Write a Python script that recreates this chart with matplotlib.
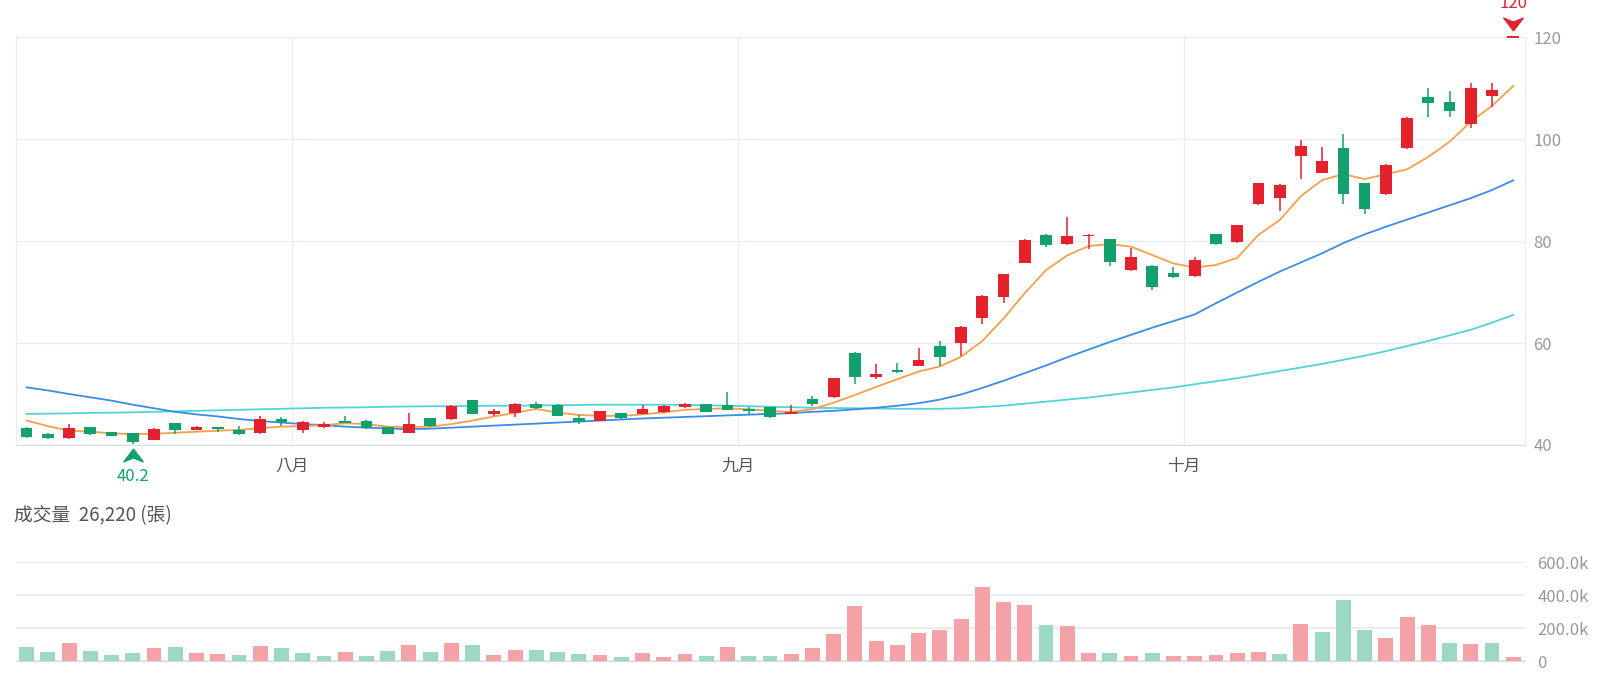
import matplotlib
matplotlib.use('Agg')
import matplotlib.pyplot as plt
from matplotlib.path import Path
from matplotlib.ticker import FuncFormatter
import numpy as np

# 字型：繁中用 Noto Sans CJK TC，缺字時退回 DejaVu Sans
plt.rcParams['font.family'] = ['Noto Sans CJK TC', 'DejaVu Sans']

# ---- 日K資料 ----
opens = [43.3, 42.1, 41.3, 43.5, 42.55, 42.3, 41.0, 44.25, 42.9, 43.6,
         42.95, 42.3, 45.0, 42.95, 43.6, 44.6, 44.8, 43.5, 42.4, 45.2,
         45.0, 48.8, 46.0, 46.2, 48.0, 47.85, 45.2, 44.8, 46.2, 46.15,
         46.5, 47.45, 48.0, 47.85, 47.0, 47.4, 46.15, 49.0, 49.35, 57.97,
         53.4, 54.7, 55.49, 59.48, 60.07, 64.84, 69.09, 75.75, 81.24, 79.35,
         80.98, 80.33, 74.25, 75.1, 73.66, 73.14, 81.3, 79.86, 87.2, 88.36,
         96.73, 93.4, 98.3, 91.3, 89.2, 98.3, 108.2, 107.19, 102.94, 108.5,
         120.0]
highs = [43.5, 42.3, 44.2, 43.6, 42.6, 42.4, 43.3, 44.3, 43.75, 43.6,
         43.7, 45.7, 45.4, 44.8, 44.6, 45.75, 44.9, 43.6, 46.2, 45.3,
         47.9, 48.9, 47.0, 48.3, 48.4, 48.0, 45.9, 46.7, 46.3, 47.9,
         47.85, 48.3, 48.1, 50.3, 47.4, 47.5, 47.85, 49.6, 53.1, 58.3,
         55.9, 56.0, 59.1, 60.46, 63.3, 69.4, 73.6, 80.3, 81.4, 84.64,
         81.3, 80.4, 78.56, 75.2, 75.0, 76.8, 81.4, 83.2, 91.4, 91.1,
         99.8, 98.5, 100.97, 91.4, 95.1, 104.3, 109.93, 109.47, 111.04, 111.04,
         120.0]
lows = [41.3, 41.2, 41.2, 42.0, 41.7, 40.2, 40.9, 42.2, 42.9, 42.6,
        42.05, 42.2, 43.7, 42.4, 43.3, 44.5, 43.2, 42.1, 42.3, 43.6,
        44.9, 46.0, 45.7, 45.4, 47.1, 45.6, 44.1, 44.7, 45.1, 46.1,
        46.3, 47.2, 46.4, 46.8, 46.1, 45.2, 46.1, 47.65, 49.3, 52.0,
        52.9, 54.2, 55.4, 55.49, 57.45, 63.73, 67.9, 75.6, 78.76, 79.2,
        78.5, 75.1, 74.2, 70.3, 72.7, 73.0, 79.2, 79.6, 87.1, 85.9,
        92.15, 93.25, 87.25, 85.2, 89.1, 98.0, 104.24, 104.24, 102.1, 106.2,
        120.0]
closes = [41.6, 41.4, 43.3, 42.2, 41.8, 40.6, 43.1, 42.95, 43.5, 43.2,
          42.1, 45.0, 44.45, 44.6, 44.05, 44.5, 43.27, 42.2, 44.1, 43.7,
          47.7, 46.1, 46.6, 48.0, 47.2, 45.75, 44.45, 46.6, 45.2, 47.06,
          47.6, 48.0, 46.5, 46.9, 46.6, 45.4, 46.5, 48.0, 53.07, 53.4,
          54.0, 54.3, 56.67, 57.32, 63.2, 69.28, 73.5, 80.2, 79.15, 81.05,
          81.24, 75.9, 76.8, 70.9, 73.0, 76.27, 79.4, 83.07, 91.3, 90.97,
          98.69, 95.75, 89.15, 86.27, 95.0, 104.18, 107.05, 105.55, 110.1, 109.7,
          120.0]

# 均線
ma_short = [44.8, 43.7, 42.8, 42.6, 42.3, 42.1, 42.2, 42.4, 42.6, 42.8,
            42.95, 43.3, 43.6, 43.7, 43.9, 44.25, 44.1, 43.6, 43.5, 43.6,
            44.1, 44.8, 45.6, 46.3, 47.1, 46.35, 45.9, 45.7, 45.7, 46.0,
            46.4, 46.9, 47.06, 47.2, 47.0, 46.7, 46.5, 47.0, 48.3, 49.8,
            51.4, 52.9, 54.4, 55.4, 57.3, 60.4, 64.8, 69.8, 74.3, 77.2,
            79.0, 79.4, 78.9, 77.25, 75.6, 74.8, 75.3, 76.7, 81.2, 84.1,
            88.8, 91.95, 93.1, 92.15, 93.1, 94.05, 96.5, 99.47, 103.4, 106.5,
            110.4]
ma_mid = [51.3, 50.7, 50.0, 49.35, 48.7, 47.9, 47.2, 46.5, 46.0, 45.6,
          45.1, 44.7, 44.4, 44.1, 43.9, 43.6, 43.4, 43.25, 43.1, 43.2,
          43.4, 43.6, 43.8, 44.0, 44.2, 44.4, 44.6, 44.8, 45.0, 45.2,
          45.35, 45.5, 45.65, 45.8, 45.95, 46.1, 46.25, 46.5, 46.7, 47.0,
          47.3, 47.7, 48.2, 48.9, 49.9, 51.2, 52.6, 54.1, 55.6, 57.2,
          58.7, 60.2, 61.6, 63.0, 64.3, 65.6, 67.8, 69.9, 72.0, 74.0,
          75.8, 77.6, 79.6, 81.3, 82.8, 84.2, 85.6, 87.0, 88.4, 90.0,
          91.9]
ma_long = [46.1, 46.15, 46.2, 46.3, 46.35, 46.4, 46.5, 46.6, 46.7, 46.8,
           46.9, 47.0, 47.1, 47.2, 47.3, 47.35, 47.4, 47.5, 47.55, 47.6,
           47.6, 47.65, 47.7, 47.7, 47.75, 47.8, 47.85, 47.9, 47.9, 47.9,
           47.9, 47.85, 47.8, 47.7, 47.6, 47.5, 47.4, 47.3, 47.25, 47.2,
           47.15, 47.1, 47.1, 47.1, 47.2, 47.45, 47.7, 48.1, 48.5, 48.9,
           49.3, 49.8, 50.3, 50.8, 51.3, 51.9, 52.5, 53.1, 53.8, 54.5,
           55.2, 55.9, 56.7, 57.5, 58.4, 59.4, 60.4, 61.5, 62.6, 64.0,
           65.5]

# 成交量 (張) 與漲跌 (1=漲, 0=跌)
volumes = [88000, 52000, 112000, 58000, 36000, 48000, 80000, 82000, 46000, 40000,
           36000, 90000, 76000, 46000, 32000, 54000, 30000, 62000, 97000, 56000,
           110000, 100000, 38000, 64000, 64000, 52000, 42000, 34000, 22000, 46000,
           24000, 40000, 28000, 86000, 28000, 32000, 40000, 81000, 164000, 332000,
           120000, 100000, 170000, 190000, 256000, 446000, 356000, 342000, 220000, 214000,
           48000, 46000, 30000, 46000, 32000, 28000, 35000, 48000, 54000, 44000,
           222000, 178000, 372000, 186000, 142000, 264000, 218000, 108000, 106000, 112000,
           26220]
vol_up = [0, 0, 1, 0, 0, 0, 1, 0, 1, 1,
          0, 1, 0, 0, 0, 1, 0, 0, 1, 0,
          1, 0, 1, 1, 0, 0, 0, 1, 0, 1,
          1, 1, 0, 1, 0, 0, 1, 1, 1, 1,
          1, 1, 1, 1, 1, 1, 1, 1, 0, 1,
          1, 0, 1, 0, 1, 1, 1, 1, 1, 0,
          1, 0, 0, 0, 1, 1, 1, 0, 1, 0,
          1]

month_pos = [12.5, 33.5, 54.5]
month_labels = ['八月', '九月', '十月']
low_idx, low_val = 5, 40.2
high_idx, high_val = 70, 120

RED = '#e3222e'
GREEN = '#12a06c'
GRID = '#eaecf3'

x = np.arange(len(opens))
o = np.array(opens)
c = np.array(closes)
up = c >= o
colors = [RED if u else GREEN for u in up]

fig = plt.figure(figsize=(16, 6.88), dpi=100)

# ---- 價格圖 ----
ax = fig.add_axes([0.01, 0.3532, 0.9431, 0.593])
ax.vlines(x, lows, highs, color=colors, linewidth=1.1, zorder=3)
body = np.abs(c - o)
min_h = 0.3
bottoms = np.where(body < min_h, (o + c) / 2 - min_h / 2, np.minimum(o, c))
heights = np.maximum(body, min_h)
ax.bar(x, heights, bottom=bottoms, width=0.55, color=colors, zorder=4, clip_on=False)

ax.plot(x, ma_long, color='#50d4da', linewidth=1.3, zorder=2)
ax.plot(x, ma_mid, color='#3a8de6', linewidth=1.3, zorder=2)
ax.plot(x, ma_short, color='#f6a04c', linewidth=1.3, zorder=2)

ax.set_xlim(-0.5, 70.55)
ax.set_ylim(40, 120)
ax.set_yticks([40, 60, 80, 100, 120])
ax.set_xticks(month_pos, month_labels)
ax.yaxis.tick_right()
ax.tick_params(axis='y', length=0, pad=6, labelsize=12, labelcolor='#999999')
ax.tick_params(axis='x', length=0, pad=9, labelsize=12, labelcolor='#555555')
ax.grid(True, color=GRID, linewidth=1, zorder=0)
ax.set_axisbelow(True)
for s in ['left', 'right', 'top']:
    ax.spines[s].set_color(GRID)
ax.spines['bottom'].set_color('#d5d9e3')

# 最低/最高標記
up_arrow = Path([(0, 0.65), (-1, -0.65), (0, -0.25), (1, -0.65), (0, 0.65)],
                [Path.MOVETO, Path.LINETO, Path.LINETO, Path.LINETO, Path.CLOSEPOLY])
down_arrow = Path([(0, -0.65), (-1, 0.65), (0, 0.25), (1, 0.65), (0, -0.65)],
                  [Path.MOVETO, Path.LINETO, Path.LINETO, Path.LINETO, Path.CLOSEPOLY])
ax.plot(low_idx, 38.0, marker=up_arrow, markersize=14, color=GREEN, clip_on=False, linestyle='none')
ax.text(low_idx, 33.9, f'{low_val}', color=GREEN, fontsize=12, ha='center', va='center', clip_on=False)
ax.plot(high_idx, 122.5, marker=down_arrow, markersize=14, color=RED, clip_on=False, linestyle='none')
ax.text(high_idx, 126.6, f'{high_val}', color=RED, fontsize=12, ha='center', va='center', clip_on=False)

# ---- 成交量圖 ----
axv = fig.add_axes([0.01, 0.0392, 0.9431, 0.1439])
vcolors = ['#f4a2a7' if u else '#9dd8c3' for u in vol_up]
axv.bar(x, volumes, width=0.7, color=vcolors, zorder=3)
axv.set_xlim(-0.5, 70.55)
axv.set_ylim(0, 600000)
axv.set_yticks([0, 200000, 400000, 600000])
axv.yaxis.set_major_formatter(FuncFormatter(lambda v, p: '0' if v == 0 else f'{v / 1000:.1f}k'))
axv.yaxis.tick_right()
axv.set_xticks([])
axv.tick_params(axis='y', length=0, pad=9, labelsize=12, labelcolor='#999999')
axv.grid(axis='y', color=GRID, linewidth=1.5, zorder=0)
for s in ['left', 'right', 'top']:
    axv.spines[s].set_visible(False)
axv.spines['bottom'].set_color('#d5d9e3')

fig.text(0.0085, 0.251, f'成交量  {volumes[-1]:,} (張)', fontsize=13.5, color='#555555', va='center', ha='left')

fig.savefig('out.png', dpi=100)
plt.close(fig)
